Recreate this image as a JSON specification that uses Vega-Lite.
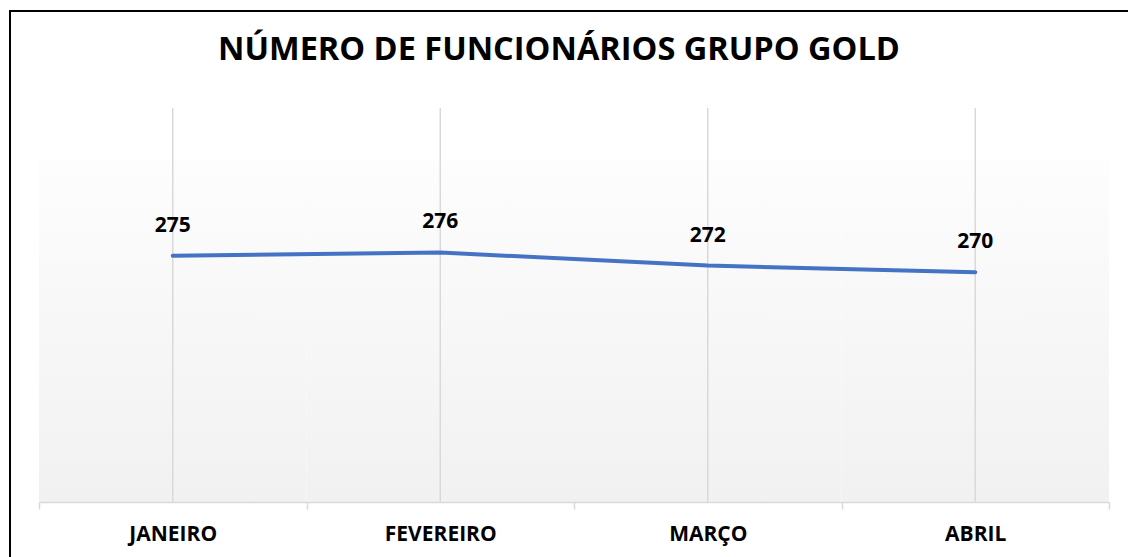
{
  "$schema": "https://vega.github.io/schema/vega-lite/v6.json",
  "autosize": {"type": "none"},
  "padding": {"left": 10, "top": 11, "right": 0, "bottom": 0},
  "width": 1125,
  "height": 560,
  "background": "white",
  "config": {
    "view": {"stroke": "#000000", "strokeWidth": 2, "fill": "white"},
    "font": "Open Sans"
  },
  "title": {
    "text": "NÚMERO DE FUNCIONÁRIOS GRUPO GOLD",
    "font": "Open Sans",
    "fontSize": 32.5,
    "fontWeight": "bold",
    "color": "#000000",
    "anchor": "start",
    "baseline": "alphabetic",
    "offset": -50,
    "dx": 208,
    "dy": 31
  },
  "data": {
    "values": [
      {"mes": "JANEIRO", "funcionarios": 275},
      {"mes": "FEVEREIRO", "funcionarios": 276},
      {"mes": "MARÇO", "funcionarios": 272},
      {"mes": "ABRIL", "funcionarios": 270}
    ]
  },
  "layer": [
    {
      "mark": {
        "type": "rect",
        "color": {"gradient": "linear", "x1": 0, "y1": 0, "x2": 0, "y2": 1,
          "stops": [{"offset": 0, "color": "#fdfdfd"}, {"offset": 1, "color": "#f1f1f1"}]}
      },
      "encoding": {
        "x": {
          "field": "mes",
          "type": "nominal",
          "sort": null,
          "scale": {"type": "band", "paddingInner": 0, "paddingOuter": 0, "range": [29, 1099]},
          "axis": {
            "title": null,
            "labelAngle": 0,
            "labelFont": "Open Sans",
            "labelFontWeight": "bold",
            "labelFontSize": 21,
            "labelColor": "#000000",
            "domainColor": "#d9d9d9",
            "domainWidth": 1.5,
            "tickColor": "#d9d9d9",
            "tickWidth": 1.5,
            "tickSize": 7,
            "tickBand": "extent",
            "labelPadding": 14,
            "grid": false,
            "offset": -69
          }
        },
        "y": {"datum": 304, "type": "quantitative", "scale": {"domain": [200, 320], "range": [491, 97], "zero": false, "nice": false}, "axis": null},
        "y2": {"datum": 200}
      }
    },
    {
      "mark": {"type": "rule", "color": "#d9d9d9", "strokeWidth": 1.5},
      "encoding": {
        "x": {"field": "mes", "type": "nominal", "sort": null},
        "y": {"datum": 320, "type": "quantitative"},
        "y2": {"datum": 200}
      }
    },
    {
      "mark": {"type": "line", "color": "#4472C4", "strokeWidth": 4, "strokeCap": "round", "strokeJoin": "round"},
      "encoding": {
        "x": {"field": "mes", "type": "nominal", "sort": null},
        "y": {"field": "funcionarios", "type": "quantitative"}
      }
    },
    {
      "mark": {"type": "text", "font": "Open Sans", "fontWeight": "bold", "fontSize": 21, "color": "#000000", "baseline": "alphabetic", "dy": -24},
      "encoding": {
        "x": {"field": "mes", "type": "nominal", "sort": null},
        "y": {"field": "funcionarios", "type": "quantitative"},
        "text": {"field": "funcionarios", "type": "quantitative"}
      }
    }
  ]
}
